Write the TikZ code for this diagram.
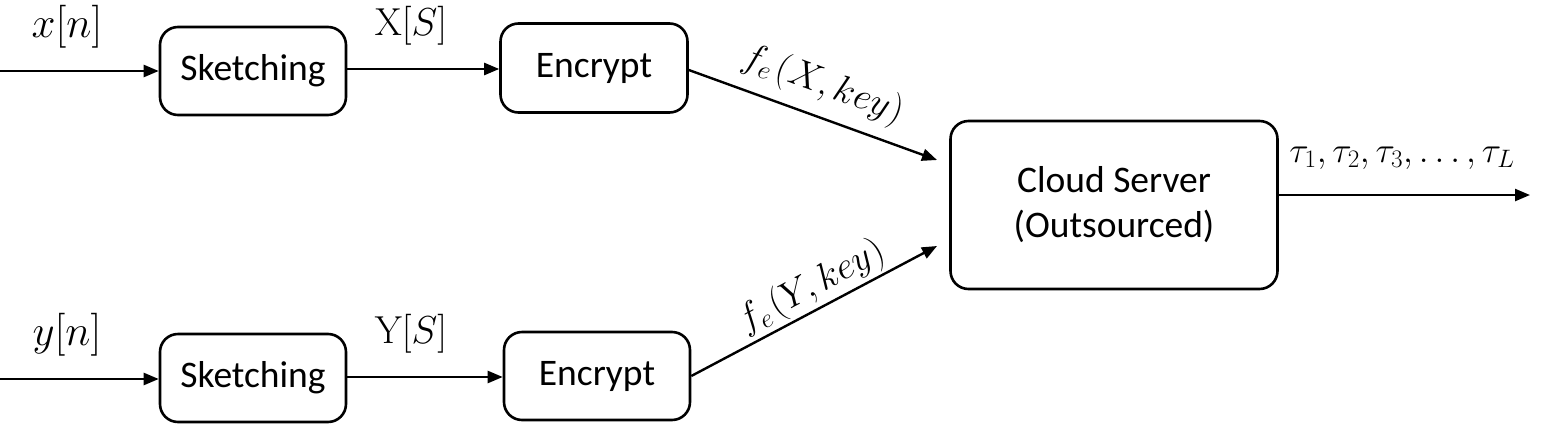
\documentclass[tikz,border=0pt]{standalone}
\usepackage{fix-cm}
\usepackage[no-math]{fontspec}
\setmainfont{Carlito}
\usetikzlibrary{arrows.meta}
\begin{document}
\begin{tikzpicture}[x=1pt,y=-1pt,
  blk/.style={draw,line width=2.6pt,rounded corners=18pt,inner sep=0pt,font=\fontsize{37.5}{45}\selectfont},
  arr/.style={line width=2.4pt,-{Triangle[length=15pt,width=12pt]}},
  lbl/.style={font=\fontsize{38}{44}\selectfont,inner sep=0pt}]
\useasboundingbox (0,0) rectangle (1542,426);
\node[blk,minimum width=186pt,minimum height=88pt] (s1) at (253,71) {Sketching};
\node[blk,minimum width=187pt,minimum height=89pt] (e1) at (594,68) {Encrypt};
\node[blk,minimum width=186pt,minimum height=88pt] (s2) at (253,378) {Sketching};
\node[blk,minimum width=186pt,minimum height=88pt] (e2) at (597,376) {Encrypt};
\node[blk,minimum width=327pt,minimum height=168pt,align=center] (cs) at (1114,205) {Cloud Server\\(Outsourced)};
\coordinate (in1) at (0,71);
\coordinate (in2) at (0,379);
\coordinate (t1) at (937,160);
\coordinate (t2) at (937,246);
\coordinate (out) at (1530,195);
\draw[arr] (in1) -- (s1.west |- in1);
\draw[arr] (in2) -- (s2.west |- in2);
\draw[arr] (s1.east |- 0,69) -- (e1.west |- 0,69);
\draw[arr] (s2.east |- 0,377) -- (e2.west |- 0,377);
\draw[arr] (e1.east |- 0,70) -- (t1);
\draw[arr] (e2.east |- 0,376) -- (t2);
\draw[arr] (cs.east |- out) -- (out);
\node[lbl,font=\fontsize{43}{50}\selectfont] (lx) at (67,27) {$x[n]$};
\node[lbl,font=\fontsize{39}{46}\selectfont] (lX) at (411,26) {$\mathrm{X}[S]$};
\node[lbl,font=\fontsize{43}{50}\selectfont] (ly) at (67,335) {$y[n]$};
\node[lbl,font=\fontsize{39}{46}\selectfont] (lY) at (411,334) {$\mathrm{Y}[S]$};
\node[lbl,rotate=-20] (fx) at (823,85) {$f_e\mkern2mu(X,key)$};
\node[lbl,rotate=28] (fy) at (812,287) {$f_e\mkern2mu(Y,key)$};
\node[lbl,font=\fontsize{36}{42}\selectfont] (tau) at (1402,158) {$\tau_1,\tau_2,\tau_3,\dots,\tau_L$};
\end{tikzpicture}
\end{document}
